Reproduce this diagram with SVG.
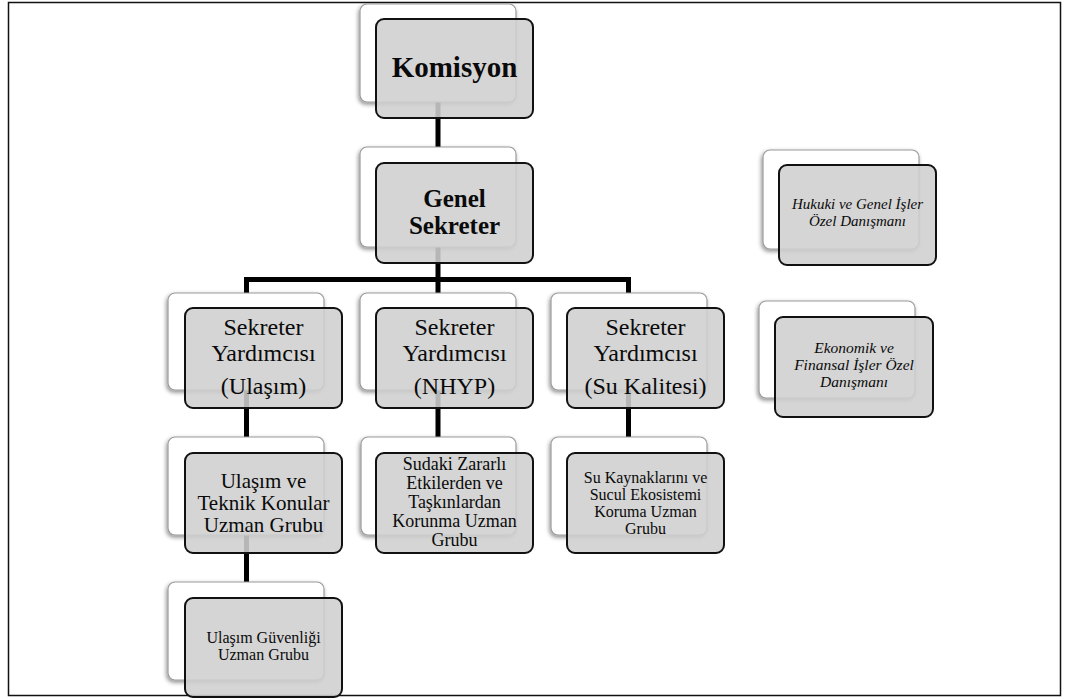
<svg xmlns="http://www.w3.org/2000/svg" width="1070" height="699" viewBox="0 0 1070 699">
<defs>
<filter id="sh" x="-10%" y="-10%" width="120%" height="130%">
<feDropShadow dx="-1" dy="2" stdDeviation="2" flood-color="#000" flood-opacity="0.45"/>
</filter>
</defs>
<style>
.back{fill:#fff;stroke:#9a9a9a;stroke-width:1.2;filter:url(#sh)}
.front{fill:#cfcfcf;fill-opacity:0.88;stroke:#111;stroke-width:2}
.conn{stroke:#000;stroke-width:5;fill:none}
text{font-family:"Liberation Serif","Times New Roman",serif;fill:#0a0a0a;text-anchor:middle}
.b{font-weight:bold}
.i{font-style:italic}
</style>
<rect x="0" y="0" width="1070" height="699" fill="#fff"/>
<rect x="8.5" y="2.5" width="1052" height="693" fill="none" stroke="#111" stroke-width="1.5"/>

<g id="connectors">
<line class="conn" x1="438" y1="102" x2="438" y2="148"/>
<line class="conn" x1="438" y1="247" x2="438" y2="280"/>
<polyline class="conn" points="246.5,294 246.5,279.5 628.5,279.5 628.5,294"/>
<line class="conn" x1="438" y1="279.5" x2="438" y2="294"/>
<line class="conn" x1="246.5" y1="390" x2="246.5" y2="437"/>
<line class="conn" x1="438" y1="390" x2="438" y2="437"/>
<line class="conn" x1="628.5" y1="390" x2="628.5" y2="437"/>
<line class="conn" x1="246.5" y1="535" x2="246.5" y2="582"/>
</g>

<g id="komisyon">
<rect class="back" x="360" y="4" width="156" height="98" rx="7"/>
<rect class="front" x="376" y="19" width="157" height="99" rx="8"/>
<text class="b" x="454.5" y="77" font-size="29">Komisyon</text>
</g>

<g id="genel-sekreter">
<rect class="back" x="360" y="147" width="156" height="100" rx="7"/>
<rect class="front" x="376" y="163" width="157" height="100" rx="8"/>
<text class="b" x="454.5" font-size="25"><tspan x="454.5" y="207">Genel</tspan><tspan x="454.5" y="234">Sekreter</tspan></text>
</g>

<g id="sy-ulasim">
<rect class="back" x="168" y="293" width="156" height="97" rx="7"/>
<rect class="front" x="185" y="308" width="157" height="100" rx="8"/>
<text x="263.5" font-size="24"><tspan x="263.5" y="335">Sekreter</tspan><tspan x="263.5" y="361">Yardımcısı</tspan><tspan x="263.5" y="394">(Ulaşım)</tspan></text>
</g>

<g id="sy-nhyp">
<rect class="back" x="360" y="293" width="156" height="97" rx="7"/>
<rect class="front" x="376" y="308" width="157" height="100" rx="8"/>
<text x="454.5" font-size="24"><tspan x="454.5" y="335">Sekreter</tspan><tspan x="454.5" y="361">Yardımcısı</tspan><tspan x="454.5" y="394">(NHYP)</tspan></text>
</g>

<g id="sy-su">
<rect class="back" x="551" y="293" width="156" height="97" rx="7"/>
<rect class="front" x="567" y="308" width="157" height="100" rx="8"/>
<text x="645.5" font-size="24"><tspan x="645.5" y="335">Sekreter</tspan><tspan x="645.5" y="361">Yardımcısı</tspan><tspan x="645.5" y="394">(Su Kalitesi)</tspan></text>
</g>

<g id="ulasim-teknik">
<rect class="back" x="168" y="437" width="156" height="98" rx="7"/>
<rect class="front" x="185" y="453" width="157" height="100" rx="8"/>
<text x="263.5" font-size="21"><tspan x="263.5" y="488">Ulaşım ve</tspan><tspan x="263.5" y="510">Teknik Konular</tspan><tspan x="263.5" y="532">Uzman Grubu</tspan></text>
</g>

<g id="sudaki">
<rect class="back" x="361" y="437" width="155" height="98" rx="7"/>
<rect class="front" x="376" y="453" width="157" height="100" rx="8"/>
<text x="454.5" font-size="18"><tspan x="454.5" y="470">Sudaki Zararlı</tspan><tspan x="454.5" y="489">Etkilerden ve</tspan><tspan x="454.5" y="508">Taşkınlardan</tspan><tspan x="454.5" y="527">Korunma Uzman</tspan><tspan x="454.5" y="546">Grubu</tspan></text>
</g>

<g id="su-kaynaklari">
<rect class="back" x="551" y="437" width="156" height="98" rx="7"/>
<rect class="front" x="567" y="453" width="157" height="100" rx="8"/>
<text x="645.5" font-size="16"><tspan x="645.5" y="483">Su Kaynaklarını ve</tspan><tspan x="645.5" y="500">Sucul Ekosistemi</tspan><tspan x="645.5" y="517">Koruma Uzman</tspan><tspan x="645.5" y="534">Grubu</tspan></text>
</g>

<g id="ulasim-guvenligi">
<rect class="back" x="168" y="582" width="156" height="98" rx="7"/>
<rect class="front" x="185" y="598" width="157" height="99" rx="8"/>
<text x="263.5" font-size="16"><tspan x="263.5" y="643">Ulaşım Güvenliği</tspan><tspan x="263.5" y="660">Uzman Grubu</tspan></text>
</g>

<g id="hukuki">
<rect class="back" x="763" y="150" width="156" height="99" rx="7"/>
<rect class="front" x="779" y="165" width="157" height="100" rx="8"/>
<text class="i" x="857.5" font-size="15"><tspan x="857.5" y="209">Hukuki ve Genel İşler</tspan><tspan x="857.5" y="226">Özel Danışmanı</tspan></text>
</g>

<g id="ekonomik">
<rect class="back" x="759" y="301" width="156" height="97" rx="7"/>
<rect class="front" x="775" y="317" width="158" height="100" rx="8"/>
<text class="i" x="854" font-size="15.5"><tspan x="854" y="353">Ekonomik ve</tspan><tspan x="854" y="370">Finansal İşler Özel</tspan><tspan x="854" y="387">Danışmanı</tspan></text>
</g>
</svg>
